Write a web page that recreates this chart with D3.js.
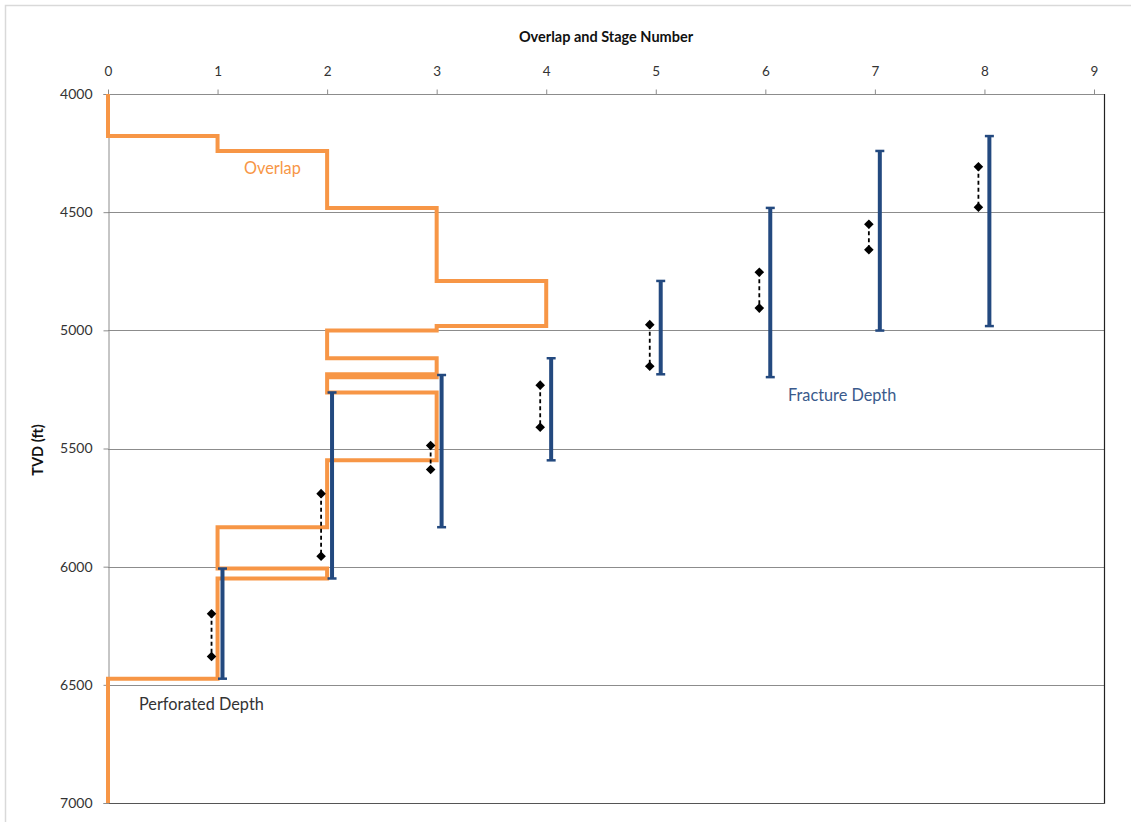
<!DOCTYPE html>
<html><head><meta charset="utf-8">
<script src="https://cdn.jsdelivr.net/npm/d3@7"></script>
<style>body{margin:0;background:#fff;}svg{display:block;font-family:Lato,"Liberation Sans",sans-serif;}</style>
</head><body>
<svg id="c" width="1131" height="822"></svg>
<script>
// ---- data ----
const stages = [1, 2, 3, 4, 5, 6, 7, 8];
const fracTop    = [6008, 5263, 5189, 5118, 4791, 4482, 4241, 4178];
const fracBottom = [6474, 6050, 5833, 5550, 5186, 5198, 5001, 4982];
const perfTop    = [6199, 5691, 5487, 5232, 4976, 4754, 4551, 4308];
const perfBottom = [6380, 5956, 5589, 5410, 5152, 4906, 4659, 4479];
// overlap step line vertices (count, depth)
const overlapCount = [0,0,1,1,2,2,3,3,4,4,3,3,2,2,3,3,2,2,3,3,2,2,3,3,2,2,1,1,2,2,1,1,0,0];
const overlapDepth = [4000,4178,4178,4241,4241,4482,4482,4791,4791,4982,4982,5001,5001,5118,5118,5186,5186,5189,5189,5198,5198,5263,5263,5550,5550,5833,5833,6008,6008,6050,6050,6474,6474,7000];
const xTicks = [0,1,2,3,4,5,6,7,8,9];
const yTicks = [4000,4500,5000,5500,6000,6500,7000];

(function(){
// ---- layout ----
const svg = d3.select("#c");
const pL = 108, pR = 1104, pT = 94, pB = 803;
const x = d3.scaleLinear().domain([0, 9]).range([108, 1094]);
const y = d3.scaleLinear().domain([4000, 7000]).range([pT, pB]);
const barOff = 0.045, perfOff = -0.055;

// chart border
svg.append("rect").attr("x",5.5).attr("y",5.5).attr("width",1140).attr("height",830)
  .attr("fill","#fff").attr("stroke","#d9d9d9").attr("stroke-width",1.5);

// gridlines
svg.append("g").selectAll("line").data(yTicks.filter(d=>d>4000&&d<7000)).join("line")
  .attr("x1",pL).attr("x2",pR).attr("y1",d=>Math.round(y(d))+0.5).attr("y2",d=>Math.round(y(d))+0.5)
  .attr("stroke","#8c8c8c").attr("stroke-width",1);

// plot border right & bottom
svg.append("line").attr("x1",pR+0.5).attr("x2",pR+0.5).attr("y1",pT).attr("y2",pB+1)
  .attr("stroke","#222").attr("stroke-width",1.2);
svg.append("line").attr("x1",pL).attr("x2",pR+1).attr("y1",pB+0.5).attr("y2",pB+0.5)
  .attr("stroke","#555").attr("stroke-width",1.2);

// axes
const xAxis = d3.axisTop(x).tickValues(xTicks).tickFormat(d3.format("d")).tickSize(5).tickPadding(14);
const gx = svg.append("g").attr("transform",`translate(0,${pT+0.5})`).call(xAxis);
gx.select(".domain").attr("stroke","#8c8c8c").attr("d",`M${pL},0H${pR}`);
gx.selectAll(".tick line").attr("stroke","#8c8c8c");
gx.selectAll(".tick text").attr("fill","#333").attr("font-size",13.5).attr("font-family","Lato,sans-serif");

const yAxis = d3.axisLeft(y).tickValues(yTicks).tickFormat(d3.format("d")).tickSize(5).tickPadding(11);
const gy = svg.append("g").attr("transform",`translate(${pL+0.5},0)`).call(yAxis);
gy.select(".domain").attr("stroke","#8c8c8c");
gy.selectAll(".tick line").attr("stroke","#8c8c8c");
gy.selectAll(".tick text").attr("fill","#333").attr("font-size",14).attr("font-family","Lato,sans-serif");

// axis titles
svg.append("text").attr("x",606).attr("y",42).attr("text-anchor","middle")
  .attr("font-weight","bold").attr("font-size",14.5).attr("fill","#111").text("Overlap and Stage Number");
svg.append("text").attr("transform","translate(43,450) rotate(-90)").attr("text-anchor","middle")
  .attr("font-weight","bold").attr("font-size",14.5).attr("fill","#111").text("TVD (ft)");

// overlap step line
const ovPts = overlapCount.map((c,i)=>[x(c), y(overlapDepth[i])]);
svg.append("path").attr("d", d3.line()(ovPts)).attr("fill","none")
  .attr("stroke","#F79646").attr("stroke-width",4).attr("stroke-linejoin","miter");

// fracture bars
const blue = "#23497f";
const fg = svg.append("g");
stages.forEach((s,i)=>{
  const xx = x(s+barOff);
  fg.append("line").attr("x1",xx).attr("x2",xx).attr("y1",y(fracTop[i])).attr("y2",y(fracBottom[i]))
    .attr("stroke",blue).attr("stroke-width",4);
  [fracTop[i], fracBottom[i]].forEach(d=>{
    fg.append("line").attr("x1",xx-4.5).attr("x2",xx+4.5).attr("y1",y(d)).attr("y2",y(d))
      .attr("stroke",blue).attr("stroke-width",2.5);
  });
});

// perforations
const pg = svg.append("g");
const diamond = d3.symbol(d3.symbolSquare, 46);
stages.forEach((s,i)=>{
  const xx = x(s+perfOff);
  pg.append("line").attr("x1",xx).attr("x2",xx).attr("y1",y(perfTop[i])).attr("y2",y(perfBottom[i]))
    .attr("stroke","#000").attr("stroke-width",1.8).attr("stroke-dasharray","4,3");
  [perfTop[i], perfBottom[i]].forEach(d=>{
    pg.append("path").attr("transform",`translate(${xx},${y(d)}) rotate(45)`)
      .attr("d", diamond()).attr("fill","#000");
  });
});

// labels
svg.append("text").attr("x",244).attr("y",174).attr("font-size",16.3).attr("fill","#F79646").text("Overlap");
svg.append("text").attr("x",788).attr("y",401).attr("font-size",16.3).attr("fill","#3a5a8c").text("Fracture Depth");
svg.append("text").attr("x",139).attr("y",710).attr("font-size",16.3).attr("fill","#333").text("Perforated Depth");
})();
</script>
</body></html>
